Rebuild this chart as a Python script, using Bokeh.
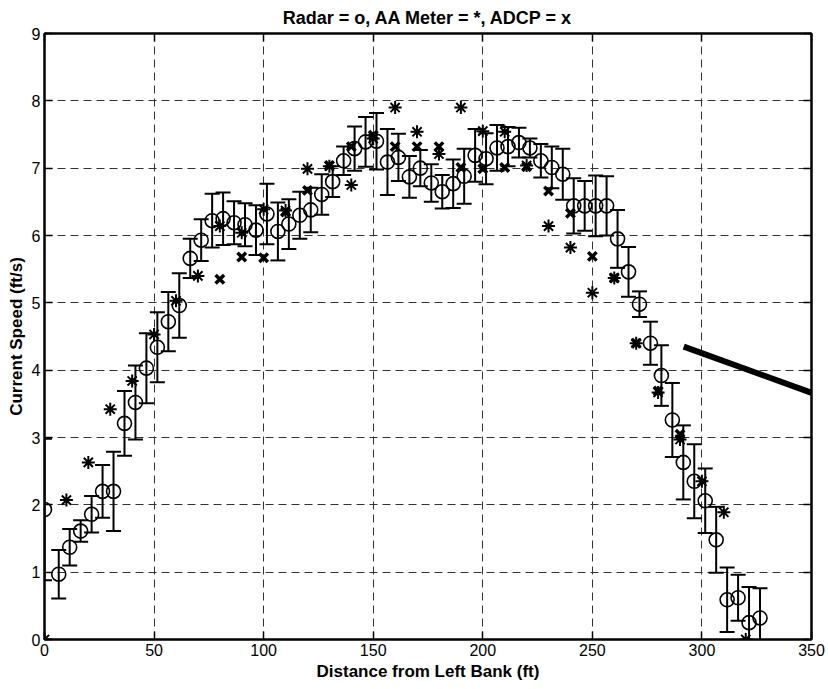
from bokeh.plotting import figure
from bokeh.models import (Whisker, TeeHead, ColumnDataSource, LinearAxis, Range1d,
                          FixedTicker, Arrow)
from bokeh.embed import file_html
from bokeh.resources import INLINE

# ---------------- data ----------------
radar_x = [0, 6.5, 11.5, 16.5, 21.5, 26.5, 31.5, 36.5, 41.5, 46.5, 51.5, 56.5, 61.5,
           66.5, 71.5, 76.5, 81.5, 86.5, 91.5, 96.5, 101.5, 106.5, 111.5, 116.5, 121.5,
           126.5, 131.5, 136.5, 141.5, 146.5, 151.5, 156.5, 161.5, 166.5, 171.5, 176.5,
           181.5, 186.5, 191.5, 196.5, 201.5, 206.5, 211.5, 216.5, 221.5, 226.5, 231.5,
           236.5, 241.5, 246.5, 251.5, 256.5, 261.5, 266.5, 271.5, 276.5, 281.5, 286.5,
           291.5, 296.5, 301.5, 306.5, 311.5, 316.5, 321.5, 326.5]
radar_y = [1.93, 0.97, 1.37, 1.61, 1.86, 2.20, 2.20, 3.21, 3.52, 4.03, 4.34, 4.72, 4.96,
           5.66, 5.93, 6.22, 6.25, 6.19, 6.16, 6.08, 6.32, 6.06, 6.17, 6.30, 6.38,
           6.61, 6.80, 7.11, 7.29, 7.39, 7.40, 7.09, 7.16, 6.87, 7.00, 6.78,
           6.65, 6.77, 6.88, 7.19, 7.14, 7.30, 7.32, 7.38, 7.30, 7.11, 7.01,
           6.91, 6.44, 6.44, 6.44, 6.44, 5.95, 5.46, 4.98, 4.40, 3.92, 3.26,
           2.63, 2.35, 2.06, 1.48, 0.59, 0.62, 0.25, 0.32]
radar_err = [1.05, 0.36, 0.27, 0.16, 0.27, 0.39, 0.59, 0.48, 0.55, 0.52, 0.52, 0.44, 0.48,
             0.29, 0.31, 0.40, 0.39, 0.32, 0.32, 0.37, 0.45, 0.43, 0.37, 0.35, 0.33,
             0.30, 0.23, 0.21, 0.33, 0.37, 0.42, 0.49, 0.35, 0.31, 0.27, 0.28,
             0.25, 0.36, 0.41, 0.39, 0.38, 0.34, 0.29, 0.22, 0.14, 0.25, 0.31,
             0.38, 0.41, 0.37, 0.45, 0.44, 0.43, 0.37, 0.19, 0.32, 0.45, 0.55,
             0.55, 0.55, 0.48, 0.49, 0.48, 0.34, 0.53, 0.44]

aa_x = [0, 10, 20, 30, 40, 50, 60, 70, 80, 90, 100, 110, 120, 130, 140, 150, 160,
        170, 180, 190, 200, 210, 220, 230, 240, 250, 260, 270, 280, 290, 300, 310, 320]
aa_y = [0.0, 2.07, 2.63, 3.42, 3.84, 4.53, 5.03, 5.40, 6.14, 6.04, 6.39, 6.37, 6.99,
        7.03, 6.75, 7.44, 7.90, 7.54, 7.21, 7.90, 7.55, 7.54, 7.04, 6.14, 5.82, 5.15,
        5.37, 4.40, 3.67, 2.97, 2.35, 1.89, 0.0]

adcp_x = [80, 90, 100, 110, 120, 130, 140, 150, 160, 170, 180, 190, 200, 210, 220,
          230, 240, 250, 260, 270, 280, 290]
adcp_y = [5.35, 5.68, 5.67, 6.35, 6.67, 7.04, 7.32, 7.49, 7.32, 7.32, 7.32, 7.01, 6.99,
          7.01, 7.02, 6.66, 6.33, 5.69, 5.37, 4.40, 3.69, 3.05]

pointer_x = [291.7, 358.0]
pointer_y = [4.35, 3.57]

x_ticks = [0, 50, 100, 150, 200, 250, 300, 350]
y_ticks = [0, 1, 2, 3, 4, 5, 6, 7, 8, 9]

FONT = "Liberation Sans"

# ---------------- figure ----------------
p = figure(width=827, height=687, output_backend="svg", toolbar_location=None,
           x_range=Range1d(0, 350), y_range=Range1d(0, 9),
           title="Radar = o, AA Meter = *, ADCP = x",
           min_border_left=44, min_border_right=16, min_border_top=33, min_border_bottom=48)

p.title.align = "center"
p.title.text_font = FONT
p.title.text_font_style = "bold"
p.title.text_font_size = "18px"
p.title.text_color = "black"
p.title.standoff = 11
p.title.offset = 0

p.outline_line_color = "black"
p.outline_line_width = 2

for ax in (p.xaxis[0], p.yaxis[0]):
    ax.major_tick_in = 8
    ax.major_tick_out = 0
    ax.minor_tick_line_color = None
    ax.axis_line_width = 2
    ax.major_tick_line_width = 1.5
    ax.major_label_text_font = FONT
    ax.major_label_text_font_size = "16px"
    ax.major_label_text_color = "black"
    ax.axis_label_text_font = FONT
    ax.axis_label_text_font_style = "bold"
    ax.axis_label_text_font_size = "17px"
    ax.axis_label_text_color = "black"
    ax.major_label_standoff = 4
    ax.axis_label_standoff = 3

p.xaxis[0].ticker = FixedTicker(ticks=x_ticks)
p.yaxis[0].ticker = FixedTicker(ticks=y_ticks)
p.xaxis[0].axis_label = "Distance from Left Bank (ft)"
p.yaxis[0].axis_label = "Current Speed (ft/s)"

for side, ticks in (("right", y_ticks), ("above", x_ticks)):
    ax = LinearAxis(ticker=FixedTicker(ticks=ticks), major_tick_in=8, major_tick_out=0,
                    minor_tick_line_color=None, axis_line_width=2, major_tick_line_width=1.5,
                    major_label_overrides={t: "" for t in ticks}, major_label_standoff=0)
    p.add_layout(ax, side)

p.xgrid.ticker = FixedTicker(ticks=x_ticks)
p.ygrid.ticker = FixedTicker(ticks=y_ticks)
for g in (p.xgrid[0], p.ygrid[0]):
    g.grid_line_color = "#333333"
    g.grid_line_dash = "8 5"
    g.grid_line_width = 1

# error bars
src = ColumnDataSource(data=dict(
    x=radar_x, y=radar_y,
    upper=[v + e for v, e in zip(radar_y, radar_err)],
    lower=[v - e for v, e in zip(radar_y, radar_err)]))
wh = Whisker(source=src, base="x", upper="upper", lower="lower", dimension="height",
             line_color="black", line_width=2,
             upper_head=TeeHead(size=15, line_width=2, line_color="black"),
             lower_head=TeeHead(size=15, line_width=2, line_color="black"))
p.add_layout(wh)

p.scatter("x", "y", source=src, marker="circle", size=14, fill_color=None,
          line_color="black", line_width=1.6)
p.scatter(aa_x, aa_y, marker="asterisk", size=13, line_color="black", line_width=2)
p.scatter(adcp_x, adcp_y, marker="x", size=12, line_color="black", line_width=3.5)

p.add_layout(Arrow(x_start=pointer_x[0], y_start=pointer_y[0],
                   x_end=pointer_x[1], y_end=pointer_y[1],
                   start=None, end=None, line_width=6, line_color="black"))

p.background_fill_color = "white"
p.border_fill_color = "white"

open("out.html", "w").write(file_html(p, INLINE))
